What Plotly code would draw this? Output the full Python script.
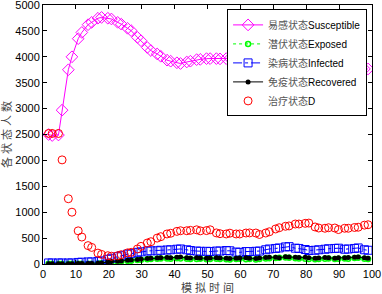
import plotly.graph_objects as go

t = [1.7, 2.8, 4.7, 5.8, 7.7, 8.8, 10.7, 11.8, 13.7, 14.8, 16.7, 17.8,
     19.7, 20.8, 22.7, 23.8, 25.7, 26.8, 28.7, 29.8, 31.7, 32.8, 34.7, 35.8,
     37.7, 38.8, 40.7, 41.8, 43.7, 44.8, 46.7, 47.8, 49.7, 50.8, 52.7, 53.8,
     55.7, 56.8, 58.7, 59.8, 61.7, 62.8, 64.7, 65.8, 67.7, 68.8, 70.7, 71.8,
     73.7, 74.8, 76.7, 77.8, 79.7, 80.8, 82.7, 83.8, 85.7, 86.8, 88.7, 89.8,
     91.7, 92.8, 94.7, 95.8, 97.7, 98.8]

susceptible = [2500, 2480, 2490, 2970, 3750, 4000, 4350, 4470, 4620, 4665, 4745, 4760,
               4745, 4730, 4665, 4630, 4550, 4505, 4375, 4310, 4180, 4120, 4055, 4010,
               3935, 3915, 3885, 3870, 3900, 3915, 3945, 3950, 3965, 3965, 3965, 3960,
               3965, 3970, 3975, 3980, 3980, 3975, 3970, 3960, 3950, 3940, 3925, 3910,
               3895, 3880, 3865, 3850, 3840, 3830, 3820, 3810, 3800, 3795, 3790, 3785,
               3780, 3775, 3770, 3768, 3766, 3765]

exposed = [3, 3, 3, 3, 3, 4, 5, 5, 6, 6, 10, 15,
           25, 35, 45, 50, 60, 65, 75, 80, 90, 95, 100, 105,
           105, 100, 110, 105, 100, 95, 95, 100, 90, 95, 100, 95,
           90, 85, 95, 100, 90, 95, 85, 95, 105, 110, 115, 120,
           125, 120, 110, 105, 100, 95, 90, 95, 100, 105, 95, 100,
           105, 100, 115, 120, 100, 95]

infected = [20, 20, 20, 20, 20, 20, 30, 35, 40, 40, 50, 60,
            90, 110, 140, 160, 190, 200, 225, 235, 250, 255, 255, 265,
            270, 275, 285, 290, 275, 260, 250, 245, 245, 240, 250, 250,
            260, 255, 230, 225, 240, 240, 245, 250, 275, 290, 300, 310,
            330, 335, 305, 300, 280, 260, 265, 275, 285, 295, 300, 305,
            285, 290, 300, 310, 275, 265]

recovered = [5, 5, 5, 5, 5, 5, 8, 8, 10, 10, 15, 20,
             40, 50, 55, 60, 70, 75, 85, 95, 105, 110, 115, 120,
             125, 120, 130, 135, 120, 115, 120, 115, 110, 115, 120, 115,
             110, 105, 110, 115, 120, 110, 105, 115, 125, 130, 130, 120,
             140, 135, 130, 125, 130, 120, 110, 115, 125, 120, 110, 120,
             120, 125, 130, 135, 120, 110]

treated = [2520, 2520, 2520, 2010, 1260, 1000, 640, 520, 355, 320, 210, 185,
           160, 150, 160, 180, 215, 225, 290, 340, 405, 430, 500, 527,
           580, 593, 630, 642, 642, 650, 660, 640, 645, 660, 600, 585,
           580, 595, 580, 580, 598, 600, 598, 570, 598, 622, 676, 700,
           728, 735, 772, 772, 785, 790, 715, 695, 690, 700, 695, 665,
           690, 690, 705, 710, 750, 758]

names_cn = ["易感状态", "潜伏状态", "染病状态", "免疫状态", "治疗状态"]
names_en = ["Susceptible", "Exposed", "Infected", "Recovered", "D"]
names = ["<span style='color:#555555'>%s</span>%s" % (c, e)
         for c, e in zip(names_cn, names_en)]

x_ticks = list(range(0, 101, 10))
y_ticks = list(range(0, 5001, 500))

fig = go.Figure()
fig.add_trace(go.Scatter(x=t, y=susceptible, name=names[0], mode="lines+markers",
                         line=dict(color="#ff00ff", width=1),
                         marker=dict(symbol="diamond-open", size=9, color="#ff00ff",
                                     line=dict(width=1))))
fig.add_trace(go.Scatter(x=t, y=exposed, name=names[1], mode="lines+markers",
                         line=dict(color="#00ff00", width=1, dash="dot"),
                         marker=dict(symbol="circle-open", size=5, color="#00ff00",
                                     line=dict(width=1.5))))
fig.add_trace(go.Scatter(x=t, y=infected, name=names[2], mode="lines+markers",
                         line=dict(color="#0000ff", width=1, dash="dashdot"),
                         marker=dict(symbol="square-open", size=8, color="#0000ff",
                                     line=dict(width=1))))
fig.add_trace(go.Scatter(x=t, y=recovered, name=names[3], mode="lines+markers",
                         line=dict(color="#000000", width=1),
                         marker=dict(symbol="circle", size=5, color="#000000")))
fig.add_trace(go.Scatter(x=t, y=treated, name=names[4], mode="markers",
                         marker=dict(symbol="circle-open", size=8, color="#ff0000",
                                     line=dict(width=1))))

axis_common = dict(showgrid=False, zeroline=False, showline=True, linecolor="#000000",
                   linewidth=1, mirror="allticks", ticks="inside", ticklen=4,
                   tickcolor="#000000", tickfont=dict(size=11, color="#000000"),
                   automargin=False, ticklabeloverflow="allow")

fig.update_layout(
    width=382, height=294,
    margin=dict(l=43, r=10, t=5, b=30),
    paper_bgcolor="white", plot_bgcolor="white",
    font=dict(family="Liberation Sans, Arial, Noto Sans CJK SC", size=11, color="#000000"),
    xaxis=dict(range=[0, 100], tickvals=x_ticks,
               title=dict(text="模 拟 时 间", font=dict(size=11, color="#444444")),
               **axis_common),
    yaxis=dict(range=[0, 5000], tickvals=y_ticks,
               title=dict(text="各 状 态 人 数", font=dict(size=11, color="#444444"),
                          standoff=2),
               **axis_common),
    legend=dict(x=0.985, y=0.983, xanchor="right", yanchor="top",
                bgcolor="white", bordercolor="#000000", borderwidth=1,
                font=dict(size=10), tracegroupgap=0, itemwidth=30),
    showlegend=True,
)

fig.write_html("out.html", config={"displayModeBar": False},
               post_script="document.body.style.margin='0';")
